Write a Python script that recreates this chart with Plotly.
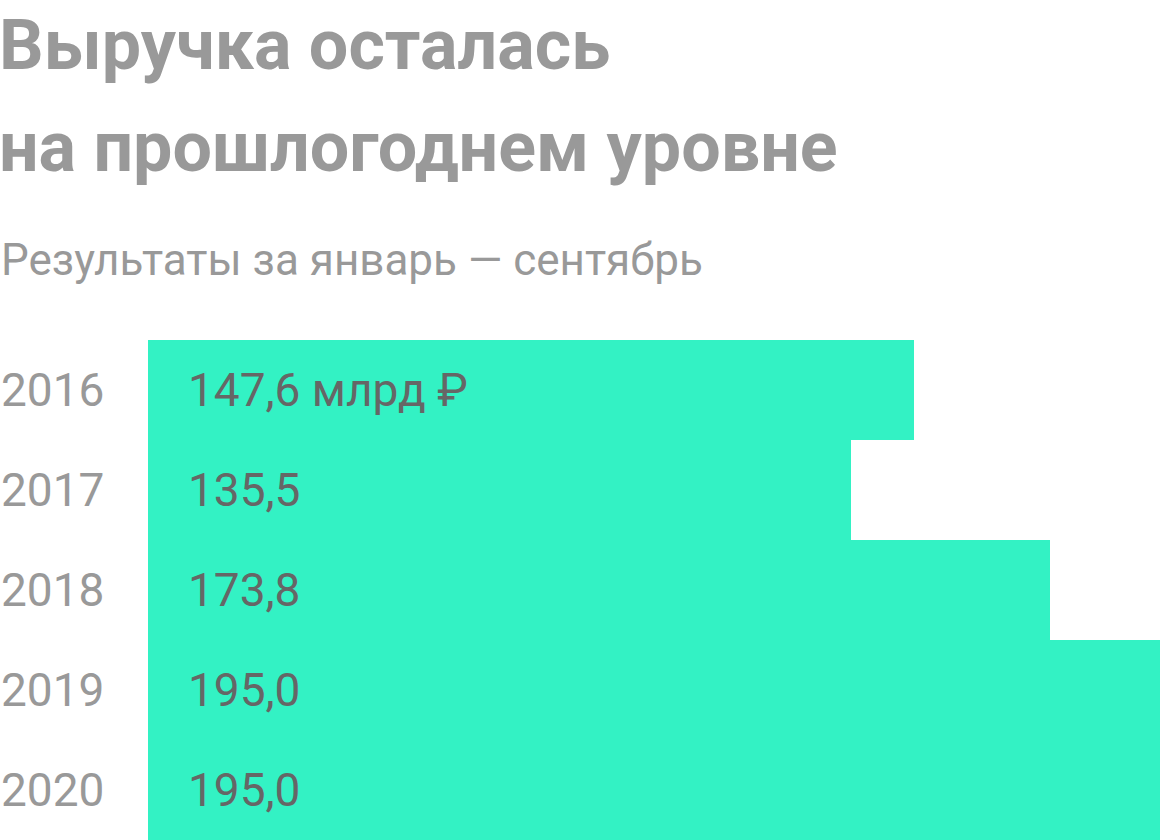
import plotly.graph_objs as go

years = ["2016", "2017", "2018", "2019", "2020"]
revenue = [147.6, 135.5, 173.8, 195.0, 195.0]
value_labels = ["147,6 млрд ₽", "135,5", "173,8", "195,0", "195,0"]

title_lines = ["Выручка осталась", "на прошлогоднем уровне"]
subtitle = "Результаты за январь — сентябрь"

W, H = 1160, 840
FONT = "Roboto"

fig = go.Figure()
fig.add_trace(
    go.Bar(
        x=revenue,
        y=years,
        orientation="h",
        marker=dict(color="#33F2C4", line=dict(width=0)),
        hoverinfo="skip",
    )
)

# year labels on the left and values inside the bars
# (annotations on a category axis take the category's serial number)
for i, (year, label) in enumerate(zip(years, value_labels)):
    fig.add_annotation(
        x=0, xref="paper", y=i, yref="y", xshift=-1,
        text=year, showarrow=False, xanchor="left", yanchor="middle",
        font=dict(family=FONT, size=46, color="#999999"),
    )
    fig.add_annotation(
        x=0, xref="x", y=i, yref="y", xshift=38,
        text=label, showarrow=False, xanchor="left", yanchor="middle",
        font=dict(family=FONT, size=46, color="#666666"),
    )

# title and subtitle
for i, line in enumerate(title_lines):
    fig.add_annotation(
        x=0, xref="paper", y=1 - (45 + i * 102) / H, yref="paper",
        text="<b>" + line + "</b>", showarrow=False,
        xanchor="left", yanchor="middle", xshift=-3,
        font=dict(family=FONT, size=70, color="#999999"),
    )
fig.add_annotation(
    x=0, xref="paper", y=1 - 260 / H, yref="paper",
    text=subtitle, showarrow=False, xanchor="left", yanchor="middle", xshift=-1,
    font=dict(family=FONT, size=44, color="#999999"),
)

fig.update_layout(
    width=W, height=H,
    margin=dict(l=0, r=0, t=0, b=0),
    paper_bgcolor="white", plot_bgcolor="white",
    bargap=0, showlegend=False,
    xaxis=dict(domain=[148 / W, 1], range=[0, 195], showgrid=False, zeroline=False,
               showticklabels=False, fixedrange=True),
    yaxis=dict(domain=[0, 500 / H], type="category", range=[4.5, -0.5],
               showgrid=False, zeroline=False, showticklabels=False, fixedrange=True),
)

fig.write_html(
    "out.html",
    config={"displayModeBar": False},
    post_script="document.body.style.margin='0';",
)
